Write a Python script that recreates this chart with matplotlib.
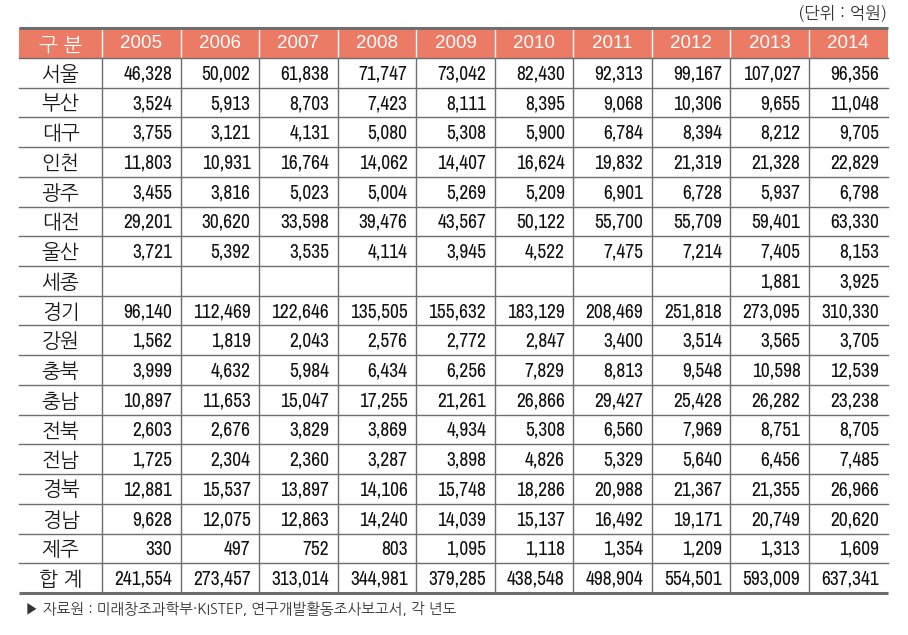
import matplotlib
matplotlib.use("Agg")
import matplotlib.pyplot as plt
from matplotlib.font_manager import fontManager

years = ["2005", "2006", "2007", "2008", "2009", "2010", "2011", "2012", "2013", "2014"]
regions = ["서울", "부산", "대구", "인천", "광주", "대전", "울산", "세종", "경기", "강원",
           "충북", "충남", "전북", "전남", "경북", "경남", "제주", "합 계"]
seoul = [46328, 50002, 61838, 71747, 73042, 82430, 92313, 99167, 107027, 96356]
busan = [3524, 5913, 8703, 7423, 8111, 8395, 9068, 10306, 9655, 11048]
daegu = [3755, 3121, 4131, 5080, 5308, 5900, 6784, 8394, 8212, 9705]
incheon = [11803, 10931, 16764, 14062, 14407, 16624, 19832, 21319, 21328, 22829]
gwangju = [3455, 3816, 5023, 5004, 5269, 5209, 6901, 6728, 5937, 6798]
daejeon = [29201, 30620, 33598, 39476, 43567, 50122, 55700, 55709, 59401, 63330]
ulsan = [3721, 5392, 3535, 4114, 3945, 4522, 7475, 7214, 7405, 8153]
sejong = [None, None, None, None, None, None, None, None, 1881, 3925]
gyeonggi = [96140, 112469, 122646, 135505, 155632, 183129, 208469, 251818, 273095, 310330]
gangwon = [1562, 1819, 2043, 2576, 2772, 2847, 3400, 3514, 3565, 3705]
chungbuk = [3999, 4632, 5984, 6434, 6256, 7829, 8813, 9548, 10598, 12539]
chungnam = [10897, 11653, 15047, 17255, 21261, 26866, 29427, 25428, 26282, 23238]
jeonbuk = [2603, 2676, 3829, 3869, 4934, 5308, 6560, 7969, 8751, 8705]
jeonnam = [1725, 2304, 2360, 3287, 3898, 4826, 5329, 5640, 6456, 7485]
gyeongbuk = [12881, 15537, 13897, 14106, 15748, 18286, 20988, 21367, 21355, 26966]
gyeongnam = [9628, 12075, 12863, 14240, 14039, 15137, 16492, 19171, 20749, 20620]
jeju = [330, 497, 752, 803, 1095, 1118, 1354, 1209, 1313, 1609]
total = [241554, 273457, 313014, 344981, 379285, 438548, 498904, 554501, 593009, 637341]
rows = [seoul, busan, daegu, incheon, gwangju, daejeon, ulsan, sejong, gyeonggi, gangwon,
        chungbuk, chungnam, jeonbuk, jeonnam, gyeongbuk, gyeongnam, jeju, total]
header_first = "구 분"
unit_text = "(단위 : 억원)"
source_text = "▶ 자료원 : 미래창조과학부·KISTEP, 연구개발활동조사보고서, 각 년도"

names = {f.name for f in fontManager.ttflist}


def pick(cands, default):
    for c in cands:
        if c in names:
            return c
    return default


num_font = pick(["Liberation Sans Narrow", "Archivo Narrow", "PT Sans Narrow", "Roboto Condensed"], "Liberation Sans")
kr_font = pick(["NanumGothic", "Nanum Gothic", "Noto Sans CJK KR"], "Noto Sans CJK KR")
kr = [kr_font, "Noto Sans CJK KR", "DejaVu Sans"]
num_family = [num_font, "DejaVu Sans"]

W, H = 908, 635
fig = plt.figure(figsize=(W / 100, H / 100), dpi=100)
ax = fig.add_axes([0, 0, 1, 1])
ax.set_xlim(0, W)
ax.set_ylim(H, 0)
ax.axis("off")

left = 19.0
first_w = 83.0
col_w = 78.55
top = 28.0
head_h = 30.0
row_h = 29.72
right = left + first_w + col_w * len(years)
bottom = top + head_h + row_h * len(regions)
xedges = [left, left + first_w] + [left + first_w + col_w * (i + 1) for i in range(len(years))]

head_color = "#EC7B66"
line_color = "#6E6E6E"

ax.add_patch(plt.Rectangle((left, top), right - left, head_h, facecolor=head_color, edgecolor="none"))
for x in xedges[1:-1]:
    ax.plot([x, x], [top, top + head_h], color="white", lw=1.0)
for x in xedges[1:-1]:
    ax.plot([x, x], [top + head_h, bottom], color=line_color, lw=1.0)
for i in range(1, len(regions)):
    y = top + head_h + row_h * i
    ax.plot([left, right], [y, y], color=line_color, lw=1.0)
ax.plot([left, right], [top + head_h, top + head_h], color=line_color, lw=1.0)
ax.plot([left, right], [top, top], color=line_color, lw=2.2, solid_capstyle="butt")
ax.plot([left, right], [bottom, bottom], color=line_color, lw=2.2, solid_capstyle="butt")

hy = top + head_h / 2 + 1
ax.text((xedges[0] + xedges[1]) / 2, hy + 1, header_first, color="white", fontsize=14.5,
        family=kr, ha="center", va="center")
for i, yr in enumerate(years):
    ax.text((xedges[i + 1] + xedges[i + 2]) / 2, hy, yr, color="white", fontsize=13.5,
            family=["Liberation Sans"], ha="center", va="center")

for r, (name, vals) in enumerate(zip(regions, rows)):
    cy = top + head_h + row_h * (r + 0.5)
    ax.text((xedges[0] + xedges[1]) / 2, cy + 1.5, name, color="#1a1a1a", fontsize=14.5,
            family=kr, ha="center", va="center")
    for i, v in enumerate(vals):
        if v is None:
            continue
        ax.text(xedges[i + 2] - 8.5, cy + 1, f"{v:,}", color="#111111", fontsize=14,
                family=num_family, ha="right", va="center")

ax.text(right, 13, unit_text, color="#333333", fontsize=12, family=kr, ha="right", va="center")
ax.text(25, 609, source_text, color="#333333", fontsize=10.5, family=kr, ha="left", va="center")

fig.savefig("out.png", dpi=100)
